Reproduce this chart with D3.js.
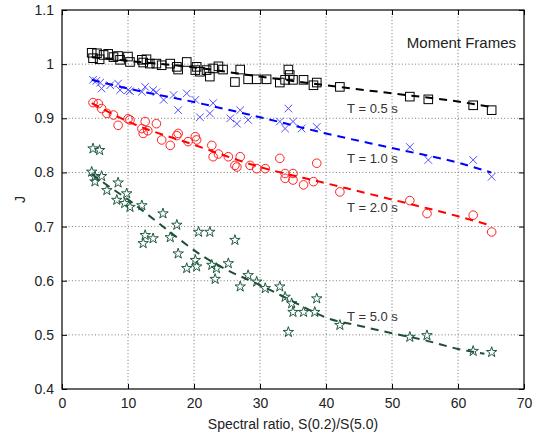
<!DOCTYPE html>
<html>
<head>
<meta charset="utf-8">
<script src="https://cdn.jsdelivr.net/npm/d3@7"></script>
<style>
body { margin: 0; background: #fff; }
text { font-family: Arial, "Liberation Sans", sans-serif; }
</style>
</head>
<body>
<svg class="chart"></svg>
<script>
var sqX = [4.5,4.7,5.3,5.7,6.3,7.0,7.8,8.5,8.8,10.0,10.3,12.1,12.3,12.8,13.3,14.3,15.1,16.4,17.4,17.6,18.9,20.2,20.4,20.9,21.9,22.4,22.9,23.7,24.4,26.2,27.0,28.2,29.5,31.0,33.0,33.8,34.3,34.5,35.0,36.6,38.1,38.6,42.1,52.7,55.5,62.3,65.1];
var sqY = [1.021,1.011,1.020,1.009,1.017,1.019,1.013,1.015,1.008,1.014,1.004,1.008,1.003,1.009,1.001,1.001,0.998,1.001,0.995,0.990,1.004,0.989,0.995,0.986,0.989,0.977,0.992,0.996,0.990,0.967,0.990,0.972,0.972,0.972,0.966,0.971,0.990,0.980,0.971,0.971,0.961,0.966,0.958,0.940,0.935,0.924,0.915];

var xxX = [4.7,5.2,6.0,5.8,7.3,8.5,8.8,10.0,10.3,12.1,12.6,13.8,14.3,15.4,16.9,17.6,18.9,20.2,20.9,22.9,22.4,25.5,26.5,27.0,28.2,33.0,34.3,35.0,33.8,36.3,38.6,52.7,55.5,62.3,65.1];
var xxY = [0.971,0.969,0.955,0.966,0.961,0.964,0.952,0.952,0.950,0.949,0.958,0.952,0.948,0.934,0.943,0.915,0.946,0.934,0.902,0.928,0.909,0.900,0.890,0.915,0.897,0.894,0.918,0.894,0.881,0.881,0.884,0.847,0.823,0.823,0.792];

var ciX = [4.7,5.5,6.0,6.8,7.8,8.5,10.0,10.3,12.1,12.3,12.6,13.0,14.3,15.1,16.4,17.4,17.6,19.1,20.2,20.4,22.7,22.9,23.7,25.2,26.2,26.5,27.0,28.5,29.5,30.8,33.0,33.8,33.8,35.0,35.0,36.6,38.1,38.6,42.1,52.7,55.3,62.3,65.1];
var ciY = [0.929,0.927,0.918,0.909,0.906,0.887,0.899,0.897,0.881,0.872,0.894,0.877,0.890,0.860,0.850,0.868,0.872,0.857,0.866,0.860,0.850,0.829,0.834,0.829,0.813,0.810,0.829,0.813,0.807,0.807,0.826,0.798,0.789,0.798,0.786,0.777,0.783,0.817,0.764,0.748,0.724,0.721,0.690];

var stX = [4.7,5.7,4.5,5.0,6.0,5.0,6.8,8.5,8.3,9.8,9.5,10.3,12.1,15.3,17.4,20.7,22.4,12.6,13.8,12.3,16.4,17.6,20.2,20.4,18.9,22.7,23.4,25.2,26.2,23.2,27.0,28.2,29.5,30.8,33.0,33.8,34.8,35.0,36.6,38.3,38.6,34.3,42.1,52.7,55.3,62.3,65.1];
var stY = [0.844,0.841,0.801,0.792,0.793,0.783,0.767,0.781,0.749,0.761,0.743,0.736,0.739,0.724,0.703,0.690,0.690,0.684,0.678,0.669,0.680,0.650,0.638,0.626,0.623,0.629,0.623,0.632,0.675,0.603,0.589,0.610,0.598,0.586,0.589,0.570,0.558,0.542,0.542,0.542,0.567,0.505,0.518,0.496,0.499,0.470,0.468];

// fitted curves
var fitX = [4.5,10,20,30,40,50,60,65];
var fitSq = [1.013,1.006,0.994,0.977,0.961,0.946,0.931,0.921];
var fitXx = [0.971,0.955,0.930,0.902,0.872,0.845,0.818,0.800];
var fitCi = [0.928,0.894,0.851,0.810,0.780,0.750,0.719,0.702];
var fitStX = [4.5,7,10,13,17,21,25,30,34,38,40,45,50,55,60,64];
var fitSt = [0.797,0.775,0.750,0.722,0.684,0.648,0.620,0.592,0.568,0.543,0.532,0.517,0.503,0.490,0.474,0.465];

var xTicks = [0,10,20,30,40,50,60,70];
var yTicks = [0.4,0.5,0.6,0.7,0.8,0.9,1,1.1];
var labels = ["T = 0.5 s","T = 1.0 s","T = 2.0 s","T = 5.0 s"];
var labelY = [0.910,0.817,0.727,0.525];

var svgWidth = 539, svgHeight = 438;
var margin = { top: 10, right: 15, bottom: 49, left: 62 };
var width = svgWidth - margin.left - margin.right;
var height = svgHeight - margin.top - margin.bottom;

var svg = d3.select(".chart")
	.attr("width", svgWidth)
	.attr("height", svgHeight);

var g = svg.append("g")
	.attr("transform", "translate(" + margin.left + "," + margin.top + ")");

var x = d3.scaleLinear().domain([0, 70]).range([0, width]);
var y = d3.scaleLinear().domain([0.4, 1.1]).range([height, 0]);

// dotted grid
g.append("g").selectAll("line").data(xTicks.slice(1, -1)).enter().append("line")
	.attr("x1", function(d) { return x(d) }).attr("x2", function(d) { return x(d) })
	.attr("y1", 0).attr("y2", height)
	.attr("stroke", "#777").attr("stroke-dasharray", "1,2.3");
g.append("g").selectAll("line").data(yTicks.slice(1, -1)).enter().append("line")
	.attr("y1", function(d) { return y(d) }).attr("y2", function(d) { return y(d) })
	.attr("x1", 0).attr("x2", width)
	.attr("stroke", "#777").attr("stroke-dasharray", "1,2.3");

function styleAxis(sel) {
	sel.select(".domain").remove();
	sel.selectAll("line").attr("stroke", "#000");
	sel.selectAll("text").attr("fill", "#222").style("font-size", "14px");
}

g.append("g")
	.attr("transform", "translate(0," + height + ")")
	.call(d3.axisBottom(x).tickValues(xTicks).tickSize(-5).tickPadding(9).tickFormat(d3.format("d")))
	.call(styleAxis);
g.append("g")
	.call(d3.axisTop(x).tickValues(xTicks).tickSize(-5).tickFormat(""))
	.call(styleAxis);
g.append("g")
	.call(d3.axisLeft(y).tickValues(yTicks).tickSize(-5).tickPadding(8).tickFormat(function(d) { return d3.format("~g")(d) }))
	.call(styleAxis);
g.append("g")
	.attr("transform", "translate(" + width + ",0)")
	.call(d3.axisRight(y).tickValues(yTicks).tickSize(-5).tickFormat(""))
	.call(styleAxis);

g.append("rect")
	.attr("width", width).attr("height", height)
	.attr("fill", "none").attr("stroke", "#000").attr("stroke-width", 1.2);

// fitted dashed curves
var line = d3.line()
	.x(function(d) { return x(d[0]) })
	.y(function(d) { return y(d[1]) })
	.curve(d3.curveMonotoneX);

function drawFit(xs, ys, color) {
	g.append("path")
		.datum(d3.zip(xs, ys))
		.attr("fill", "none")
		.attr("stroke", color)
		.attr("stroke-width", 2)
		.attr("stroke-dasharray", "8,6")
		.attr("d", line);
}

// markers
g.append("g").selectAll("rect").data(d3.zip(sqX, sqY)).enter().append("rect")
	.attr("x", function(d) { return x(d[0]) - 4.3 })
	.attr("y", function(d) { return y(d[1]) - 4.3 })
	.attr("width", 8.6).attr("height", 8.6)
	.attr("fill", "none").attr("stroke", "#000").attr("stroke-width", 1);

g.append("g").selectAll("path").data(d3.zip(xxX, xxY)).enter().append("path")
	.attr("d", function(d) {
		var cx = x(d[0]), cy = y(d[1]), s = 3.8;
		return "M" + (cx - s) + "," + (cy - s) + "L" + (cx + s) + "," + (cy + s) +
			"M" + (cx - s) + "," + (cy + s) + "L" + (cx + s) + "," + (cy - s);
	})
	.attr("fill", "none").attr("stroke", "#4f4fff").attr("stroke-width", 1);

g.append("g").selectAll("circle").data(d3.zip(ciX, ciY)).enter().append("circle")
	.attr("cx", function(d) { return x(d[0]) })
	.attr("cy", function(d) { return y(d[1]) })
	.attr("r", 4.3)
	.attr("fill", "none").attr("stroke", "#ff2020").attr("stroke-width", 1);

var star = d3.symbol().type(d3.symbolStar).size(34);
g.append("g").selectAll("path").data(d3.zip(stX, stY)).enter().append("path")
	.attr("transform", function(d) { return "translate(" + x(d[0]) + "," + y(d[1]) + ")" })
	.attr("d", star)
	.attr("fill", "none").attr("stroke", "#1f5a3f").attr("stroke-width", 1);

drawFit(fitX, fitSq, "#000");
drawFit(fitX, fitXx, "#0000ff");
drawFit(fitX, fitCi, "#ff0000");
drawFit(fitStX, fitSt, "#1e4f36");

// annotations
g.selectAll(".tlab").data(labels).enter().append("text")
	.attr("class", "tlab")
	.attr("x", x(43.2))
	.attr("y", function(d, i) { return y(labelY[i]) })
	.attr("fill", "#333")
	.style("font-size", "13px")
	.text(function(d) { return d });

g.append("text")
	.attr("x", width - 8).attr("y", 38)
	.attr("text-anchor", "end")
	.attr("fill", "#222")
	.style("font-size", "15px")
	.text("Moment Frames");

svg.append("text")
	.attr("x", margin.left + width / 2).attr("y", 429)
	.attr("text-anchor", "middle")
	.attr("fill", "#222")
	.style("font-size", "14px")
	.text("Spectral ratio, S(0.2)/S(5.0)");

svg.append("text")
	.attr("transform", "translate(25," + (margin.top + y(0.75)) + ") rotate(-90)")
	.attr("text-anchor", "middle")
	.attr("fill", "#222")
	.style("font-size", "14px")
	.text("J");
</script>
</body>
</html>
